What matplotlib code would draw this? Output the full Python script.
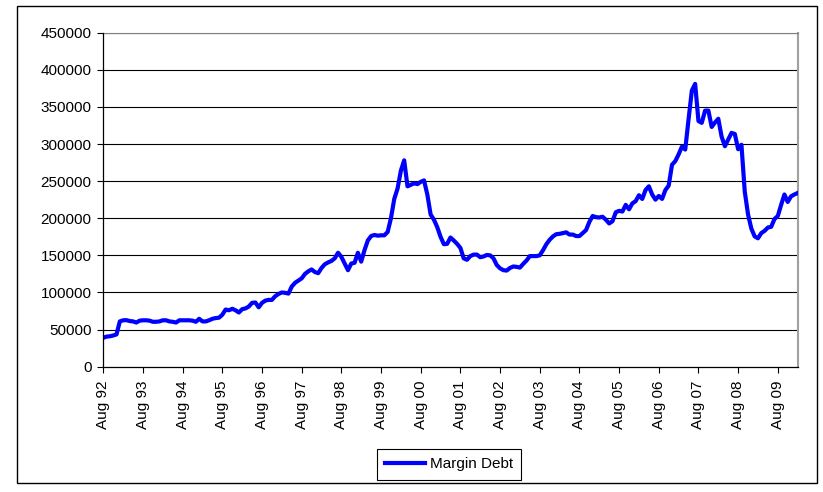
import matplotlib.pyplot as plt
from matplotlib.patches import Rectangle
import numpy as np

plt.rcParams['font.family'] = ['Liberation Sans', 'DejaVu Sans']

# monthly margin debt, Aug 92 .. Feb 10 (one row per year, Aug..Jul)
debt_92 = [39000, 40500, 41000, 42000, 43500, 61000, 62500, 62700, 61500, 61000, 59500, 62000]
debt_93 = [62500, 62500, 62000, 60500, 60500, 61000, 62500, 62500, 61000, 60500, 59500, 62500]
debt_94 = [62500, 62500, 62500, 62000, 60500, 64500, 61000, 61000, 62500, 64500, 65500, 66000]
debt_95 = [70000, 77000, 76000, 78000, 76000, 73000, 77500, 78500, 81000, 86000, 86500, 80000]
debt_96 = [86000, 89000, 90000, 90000, 95000, 98000, 100000, 99500, 98500, 108000, 113000, 116000]
debt_97 = [119000, 125000, 128500, 131000, 127500, 126000, 133000, 138000, 140500, 142500, 146000, 153500]
debt_98 = [148000, 139000, 130000, 139000, 140000, 153500, 141500, 157000, 170000, 176000, 177500, 176500]
debt_99 = [177000, 177000, 181500, 200000, 226000, 240000, 264000, 278000, 243000, 245000, 247000, 246000]
debt_00 = [249000, 251000, 232000, 205000, 198000, 188000, 175000, 165000, 165500, 174000, 170000, 165500]
debt_01 = [160000, 146000, 144000, 149000, 151000, 151000, 147500, 148500, 150500, 150000, 146000, 137000]
debt_02 = [132500, 130000, 129500, 133000, 135000, 134500, 133500, 138500, 143000, 149000, 149000, 149000]
debt_03 = [150000, 157000, 165000, 171000, 175500, 178500, 179000, 180000, 181000, 178000, 178000, 176000]
debt_04 = [176000, 180000, 184000, 195000, 203000, 201500, 201000, 202000, 198000, 193000, 196000, 208000]
debt_05 = [210000, 209000, 218000, 212000, 220000, 223000, 231000, 226000, 238000, 243000, 232000, 225000]
debt_06 = [230000, 226000, 238000, 244000, 272000, 277000, 286000, 296500, 292500, 333000, 372000, 381000]
debt_07 = [331000, 328500, 345000, 345000, 323000, 329000, 334000, 310000, 297000, 306000, 315000, 313500]
debt_08 = [293000, 299000, 236000, 205000, 186000, 175500, 173000, 180000, 183000, 187500, 188500, 199000]
debt_09 = [203000, 218000, 232000, 222000, 229500, 232000, 234000]

years = ['92', '93', '94', '95', '96', '97', '98', '99', '00',
         '01', '02', '03', '04', '05', '06', '07', '08', '09']
tick_labels = ['Aug ' + y for y in years]
y_ticks = list(range(0, 450001, 50000))

margin_debt = (debt_92 + debt_93 + debt_94 + debt_95 + debt_96 + debt_97 + debt_98
               + debt_99 + debt_00 + debt_01 + debt_02 + debt_03 + debt_04 + debt_05
               + debt_06 + debt_07 + debt_08 + debt_09)
months = np.arange(len(margin_debt))

fig = plt.figure(figsize=(8.23, 4.92), dpi=100)
ax = fig.add_axes([0.1255, 0.2547, 0.8437, 0.6789])

for v in y_ticks[1:]:
    ax.axhline(v, color='black', lw=0.8, zorder=1)

ax.plot(months, margin_debt, color='#0000ff', lw=3, label='Margin Debt',
        solid_joinstyle='round', zorder=3)

ax.set_xlim(0, len(margin_debt) - 1)
ax.set_ylim(0, 450000)
ax.set_yticks(y_ticks)
ax.set_yticklabels([str(v) for v in y_ticks], fontsize=11)
ax.set_xticks(months[::12])
ax.set_xticklabels(tick_labels, rotation=90, fontsize=11)
ax.tick_params(axis='both', direction='out', length=4, width=0.8, color='black')
ax.tick_params(axis='y', pad=4.5)
ax.tick_params(axis='x', pad=6)

for side in ['left', 'bottom']:
    ax.spines[side].set_color('black')
    ax.spines[side].set_linewidth(0.9)
    ax.spines[side].set_zorder(4)
ax.spines['top'].set_color('#808080')
ax.spines['right'].set_color('#a0a0a0')
ax.spines['right'].set_linewidth(1.5)

leg = fig.legend(loc='center', bbox_to_anchor=(0.5458, 0.0565), fontsize=11,
                 frameon=True, fancybox=False, edgecolor='black', framealpha=1,
                 handlelength=2.6, handletextpad=0.3, borderpad=0.55, borderaxespad=0)
leg.get_frame().set_linewidth(0.8)

fig.patches.append(Rectangle((0.0203, 0.0177), 0.9724, 0.9707, transform=fig.transFigure,
                             fill=False, edgecolor='black', lw=1))

fig.savefig('out.png', dpi=100)
